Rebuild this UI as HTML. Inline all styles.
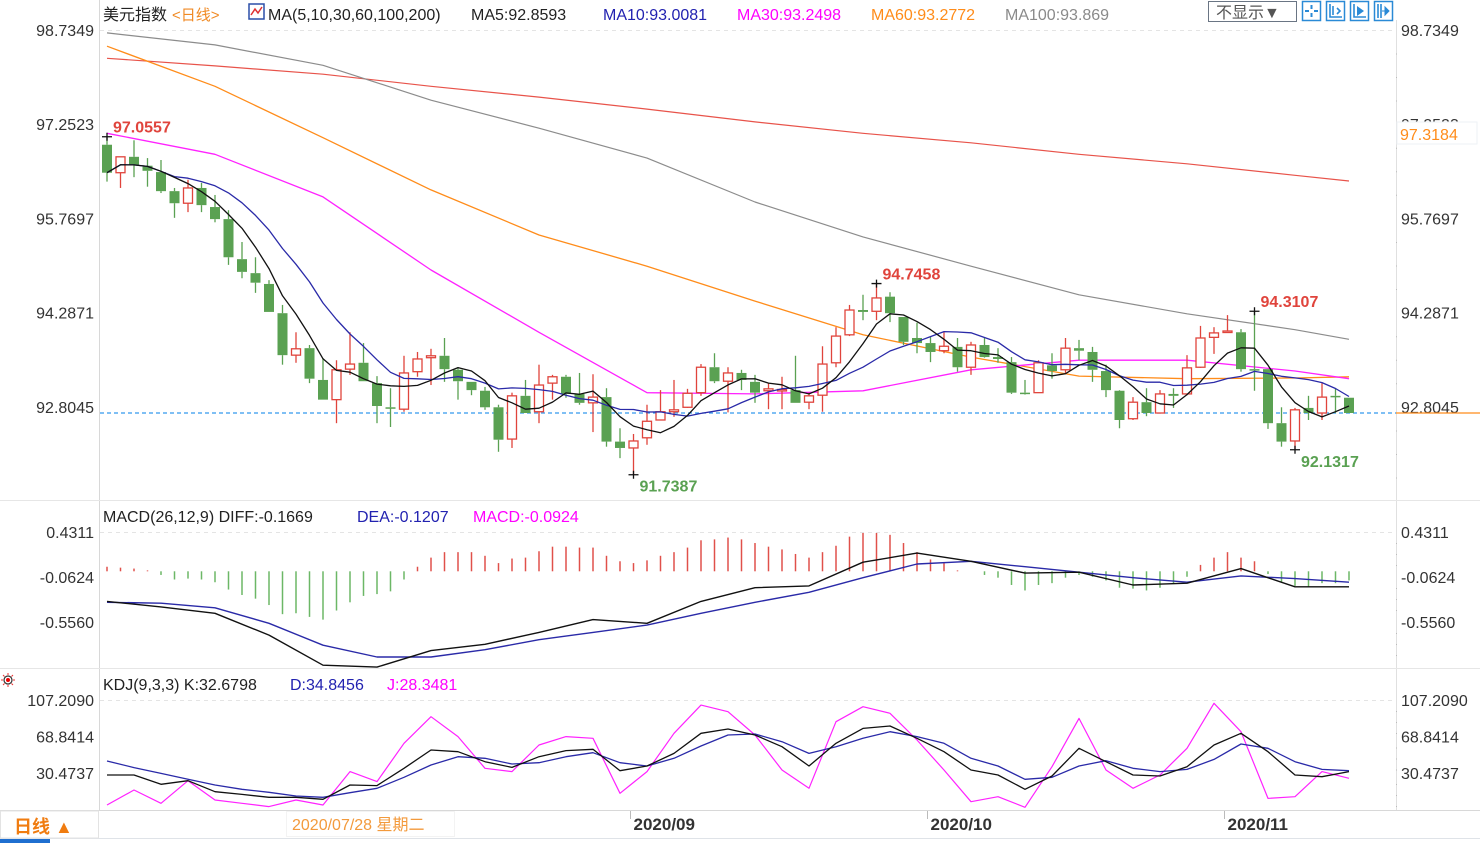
<!DOCTYPE html>
<html><head><meta charset="utf-8"><title>美元指数 日线</title>
<style>
html,body{margin:0;padding:0;background:#fff;}
body{width:1480px;height:843px;overflow:hidden;font-family:"Liberation Sans","Noto Sans CJK SC",sans-serif;}
svg text{font-family:"Liberation Sans","Noto Sans CJK SC",sans-serif;}
</style></head>
<body>
<svg id="chart" width="1480" height="843" viewBox="0 0 1480 843" xmlns="http://www.w3.org/2000/svg">
  <rect x="0" y="0" width="1480" height="843" fill="#fff"/>
  <line x1="99.5" y1="0" x2="99.5" y2="810" stroke="#d8d8d8"/>
  <line x1="1396.5" y1="20" x2="1396.5" y2="810" stroke="#e0e0e0"/>
  <line x1="0" y1="500.5" x2="1480" y2="500.5" stroke="#e6e6e6"/>
  <line x1="0" y1="668.5" x2="1480" y2="668.5" stroke="#e6e6e6"/>
  <line x1="100" y1="30.5" x2="1396" y2="30.5" stroke="#e4e4e4" stroke-dasharray="4,4"/>
  <line x1="100" y1="532.5" x2="1396" y2="532.5" stroke="#e4e4e4" stroke-dasharray="4,4"/>
  <line x1="100" y1="700.5" x2="1396" y2="700.5" stroke="#e4e4e4" stroke-dasharray="4,4"/>
  <line x1="0" y1="810.5" x2="1480" y2="810.5" stroke="#d8d8d8"/>
  <line x1="0" y1="838.5" x2="1480" y2="838.5" stroke="#dfe3e8"/>

  <g font-size="16">
    <text x="103" y="20" fill="#222">美元指数</text>
    <text x="172" y="20" fill="#f08a24" font-size="15">&lt;日线&gt;</text>
    <g>
      <rect x="249" y="4" width="15" height="15" fill="#fff" stroke="#2b4fa8" stroke-width="1.5"/>
      <polyline points="251,15 255,9 258,13 262,7" fill="none" stroke="#e03030" stroke-width="1.5"/>
    </g>
    <text x="268" y="20" fill="#222">MA(5,10,30,60,100,200)</text>
    <text x="471" y="20" fill="#222">MA5:92.8593</text>
    <text x="603" y="20" fill="#2222b0">MA10:93.0081</text>
    <text x="737" y="20" fill="#ff00ff">MA30:93.2498</text>
    <text x="871" y="20" fill="#ff8c1a">MA60:93.2772</text>
    <text x="1005" y="20" fill="#8a8a8a">MA100:93.869</text>
  </g>
  <g>
    <rect x="1208.5" y="1.5" width="88" height="20" fill="#fff" stroke="#6a7584"/>
    <text x="1216" y="18" font-size="16" fill="#555">不显示▼</text>
  </g>
  <g><rect x="1302.5" y="1.5" width="18" height="19" fill="#fff" stroke="#2a8ad6" stroke-width="1.5"/><path d="M1311.5 5v4M1311.5 13v4M1305 11h4M1314 11h4" stroke="#2a8ad6" stroke-width="2"/></g>
  <g><rect x="1326.5" y="1.5" width="18" height="19" fill="#fff" stroke="#2a8ad6" stroke-width="1.5"/><path d="M1330 4v13h12M1333 6v9M1337 8l3 3-3 3" stroke="#2a8ad6" stroke-width="1.6" fill="none"/></g>
  <g><rect x="1350.5" y="1.5" width="18" height="19" fill="#fff" stroke="#2a8ad6" stroke-width="1.5"/><path d="M1354 4v13h12" stroke="#2a8ad6" stroke-width="1.6" fill="none"/><path d="M1357 6l7 5-7 5z" fill="#2a8ad6"/></g>
  <g><rect x="1374.5" y="1.5" width="18" height="19" fill="#fff" stroke="#2a8ad6" stroke-width="1.5"/><path d="M1378 4v14M1381 4v14" stroke="#2a8ad6" stroke-width="1.6"/><path d="M1382 11h5M1385 7l4 4-4 4z" stroke="#2a8ad6" fill="#2a8ad6"/></g>

  <g id="axes"></g>
  <g id="main"></g>
  <g id="macd"></g>
  <g id="kdj"></g>

  <g font-size="16">
    <text x="103" y="522" fill="#222">MACD(26,12,9) DIFF:-0.1669</text>
    <text x="357" y="522" fill="#2222b0">DEA:-0.1207</text>
    <text x="473" y="522" fill="#ff00ff">MACD:-0.0924</text>
  </g>
  <g font-size="16">
    <text x="103" y="690" fill="#222">KDJ(9,3,3) K:32.6798</text>
    <text x="290" y="690" fill="#2222b0">D:34.8456</text>
    <text x="387" y="690" fill="#ff00ff">J:28.3481</text>
  </g>
  <g>
    <circle cx="8" cy="680" r="4" fill="none" stroke="#333" stroke-width="1.2"/>
    <circle cx="8" cy="680" r="2" fill="#e00"/>
    <path d="M8 673v2M8 685v2M1 680h2M13 680h2M3 675l1.5 1.5M13 675l-1.5 1.5M3 685l1.5-1.5M13 685l-1.5-1.5" stroke="#e33" stroke-width="1"/>
  </g>

  <g>
    <rect x="0.5" y="811" width="98" height="27" fill="#fff" stroke="#e3e3e3"/>
    <text x="14" y="833" font-size="18" font-weight="bold" fill="#f07c10">日线 ▲</text>
    <rect x="0" y="839" width="50" height="4" fill="#1f6fd0"/>
  </g>
  <g>
    <rect x="286.5" y="811.5" width="168" height="25" fill="#fff" stroke="#f3f3f3"/>
    <text x="292" y="830" font-size="16" fill="#f39a3c">2020/07/28 星期二</text>
  </g>
  <g id="dates" font-size="17" font-weight="bold" fill="#333"></g>
</svg>
<script>
const candleOpen  = [96.93,96.49,96.74,96.60,96.50,96.20,96.01,96.25,95.95,95.76,95.13,94.91,94.74,94.28,93.62,93.73,93.23,92.92,93.40,93.50,93.18,92.80,92.77,93.36,93.58,93.61,93.39,93.20,93.06,92.80,92.30,92.98,92.73,93.18,93.28,93.01,92.87,92.96,92.26,92.16,92.32,92.60,92.73,92.80,93.03,93.43,93.21,93.34,93.20,93.06,93.07,93.07,92.88,92.99,93.50,93.94,94.33,94.31,94.54,94.22,93.89,93.81,93.69,93.75,93.43,93.78,93.59,93.51,93.03,93.03,93.46,93.39,93.73,93.67,93.37,93.06,92.62,92.88,92.71,93.01,93.01,93.43,93.90,93.98,93.98,93.40,93.40,92.55,92.27,92.79,92.71,92.98,92.95];
const candleClose = [96.49,96.74,96.61,96.52,96.20,96.01,96.25,95.98,95.76,95.16,94.93,94.76,94.30,93.62,93.72,93.25,92.92,93.39,93.48,93.21,92.82,92.79,93.34,93.56,93.61,93.40,93.21,93.07,92.80,92.29,92.98,92.71,93.15,93.28,93.01,92.87,92.96,92.26,92.16,92.27,92.58,92.73,92.76,93.02,93.43,93.21,93.34,93.23,93.03,93.09,93.08,92.87,92.98,93.48,93.92,94.33,94.30,94.52,94.28,93.83,93.81,93.67,93.76,93.43,93.78,93.59,93.56,93.03,93.01,93.50,93.37,93.73,93.69,93.39,93.07,92.60,92.88,92.71,93.01,92.98,93.42,93.89,93.97,94.00,93.40,93.39,92.55,92.26,92.76,92.71,92.96,92.96,92.71];
const candleHigh  = [97.06,96.74,97.00,96.72,96.69,96.25,96.38,96.33,96.14,95.90,95.40,95.16,94.80,94.41,93.98,93.78,93.57,93.54,93.98,93.81,93.29,93.10,93.61,93.67,93.72,93.89,93.43,93.20,93.12,92.84,93.03,93.23,93.47,93.31,93.31,93.34,93.32,93.10,92.47,92.38,92.84,93.07,93.23,93.09,93.48,93.65,93.43,93.39,93.31,93.18,93.28,93.61,93.03,93.76,94.06,94.41,94.57,94.75,94.61,94.22,94.13,93.91,93.98,93.89,93.83,93.89,93.73,93.59,93.23,93.54,93.65,93.89,93.86,93.75,93.47,93.07,92.96,93.10,93.07,93.10,93.62,94.08,94.06,94.25,94.03,94.31,93.40,92.80,92.79,92.98,93.18,93.10,92.95];
const candleLow   = [96.35,96.25,96.42,96.27,96.17,95.78,95.87,95.87,95.71,95.04,94.83,94.60,94.30,93.47,93.50,93.18,92.92,92.55,93.31,93.21,92.55,92.49,92.73,93.28,93.15,93.20,92.92,92.99,92.76,92.10,92.16,92.71,92.55,92.92,92.95,92.84,92.41,92.18,92.00,91.74,92.21,92.60,92.65,92.79,92.98,93.18,92.72,93.07,92.87,92.77,92.77,92.87,92.77,92.73,93.43,93.92,94.17,94.17,94.14,93.78,93.65,93.51,93.65,93.36,93.31,93.58,93.50,93.01,93.00,93.03,93.25,93.34,93.54,93.20,92.96,92.47,92.60,92.66,92.71,92.79,92.99,93.42,93.64,93.98,93.36,93.06,92.46,92.18,92.13,92.60,92.60,92.71,92.71];
const maSampleIdx = [0,8,16,24,32,40,48,56,64,72,80,88,92];
const ma30  = [97.11,96.78,96.11,94.96,93.98,93.03,93.01,93.06,93.39,93.54,93.54,93.37,93.25];
const ma60  = [98.48,97.85,97.04,96.22,95.51,95.02,94.47,93.94,93.59,93.29,93.25,93.26,93.28];
const ma100 = [98.69,98.50,98.18,97.63,97.19,96.72,96.03,95.48,95.02,94.57,94.27,94.02,93.87];
const ma200 = [98.29,98.17,98.04,97.85,97.68,97.49,97.29,97.11,96.96,96.78,96.63,96.45,96.36];
const mainTicks = [98.7349,97.2523,95.7697,94.2871,92.8045];
const lastPrice = 92.71;

const macdHist = [0.05,0.04,0.03,0.01,-0.04,-0.09,-0.08,-0.09,-0.12,-0.20,-0.26,-0.30,-0.37,-0.47,-0.46,-0.50,-0.53,-0.43,-0.34,-0.27,-0.25,-0.22,-0.09,0.05,0.15,0.21,0.21,0.21,0.17,0.09,0.14,0.15,0.22,0.27,0.27,0.26,0.26,0.17,0.11,0.09,0.12,0.17,0.21,0.26,0.34,0.35,0.37,0.35,
0.31,0.27,0.24,0.19,0.15,0.21,0.28,0.38,0.42,0.42,0.40,0.31,0.21,0.13,0.09,0.01,0.00,-0.04,-0.07,-0.15,-0.21,-0.15,-0.13,-0.07,-0.04,-0.06,-0.10,-0.18,-0.19,-0.21,-0.18,-0.14,-0.06,0.07,0.15,0.21,0.15,0.11,-0.03,-0.12,-0.16,-0.17,-0.13,-0.13,-0.10];
const macdSampleIdx = [0,4,8,12,16,20,24,28,32,36,40,44,48,52,56,60,64,68,72,76,80,84,88,92];
const diffLine = [-0.33,-0.39,-0.46,-0.70,-1.03,-1.05,-0.87,-0.80,-0.67,-0.53,-0.57,-0.33,-0.18,-0.16,0.10,0.20,0.11,-0.02,-0.01,-0.15,-0.13,0.03,-0.17,-0.17];
const deaLine  = [-0.34,-0.35,-0.40,-0.57,-0.81,-0.94,-0.94,-0.86,-0.75,-0.67,-0.59,-0.46,-0.34,-0.23,-0.07,0.08,0.11,0.05,-0.01,-0.07,-0.12,-0.05,-0.08,-0.12];
const macdTicks = [0.4311,-0.0624,-0.5560];

const kLine = [28.4,28.4,18.6,22.4,10.8,8.0,4.9,4.9,2.8,17.9,17.2,35.4,54.6,52.9,42.4,36.4,47.6,54.0,55.4,32.9,37.8,51.1,72.2,76.7,
70.4,58.1,37.8,61.7,77.4,79.9,66.9,52.9,33.6,28.4,13.3,27.3,56.4,42.4,28.4,27.3,37.1,59.9,72.2,52.9,28.4,26.6,31.9];
const dLine = [43.1,36.1,30.1,23.8,17.9,13.3,10.2,6.3,4.9,9.8,14.4,25.9,38.9,47.6,45.9,39.9,41.3,47.6,51.8,41.3,37.8,45.9,58.9,70.4,
71.5,63.4,51.1,58.1,66.9,73.9,68.7,61.7,45.9,37.8,23.8,25.9,37.8,43.4,35.4,31.9,34.3,44.8,61.0,56.4,42.4,34.3,32.9];
const jLine = [-3.2,12.6,-1.4,22.4,2.1,-1.4,-4.9,2.1,-3.2,31.9,21.4,61.7,89.7,68.7,35.4,31.9,59.9,68.7,66.9,9.1,31.9,72.2,101.9,94.9,
70.4,33.6,14.4,84.4,100.2,93.2,65.2,33.6,0.3,5.6,-5.6,37.1,87.9,33.6,14.4,28.4,56.4,103.7,73.9,3.8,5.6,31.9,24.9];
const kdjTicks = [107.2090,68.8414,30.4737];

const dateLabels = ["2020/09","2020/10","2020/11"];
const dateIdx = [39,61,83];

const NS = "http://www.w3.org/2000/svg";
const X0 = 107, STEP = 13.5;
function xAt(i){ return X0 + STEP*i; }
function yMain(p){ return 30 + (98.7349 - p)*63.57; }
function yMacd(v){ return 571.3 - v*91.2; }
function yKdj(v){ return 700 + (107.209 - v)*0.9513; }
function mk(tag, attrs, parent){ const e=document.createElementNS(NS,tag); for(const k in attrs) e.setAttribute(k,attrs[k]); parent.appendChild(e); return e; }

const gAxes=document.getElementById('axes'), gMain=document.getElementById('main'), gMacd=document.getElementById('macd'), gKdj=document.getElementById('kdj');

function axisLabels(ticks, yf, fmt, name){
  ticks.forEach(function(t){
    const y=yf(t);
    const l=mk('text',{x:94,y:y+6,'text-anchor':'end','font-size':16,fill:'#333'},gAxes);
    
    
    l.textContent=fmt(t);
    const r=mk('text',{x:1401,y:y+6,'font-size':16,fill:'#333'},gAxes);
    
    
    r.textContent=fmt(t);
    for(let k=1;k<4;k++){ mk('rect',{x:1396,y:y+k*(name==='price'?23.5:11),width:1,height:1,fill:'#bbb'},gAxes); }
  });
}
axisLabels(mainTicks,yMain,function(t){return t.toFixed(4);},'price');
axisLabels(macdTicks,yMacd,function(t){return t.toFixed(4);},'macd');
axisLabels(kdjTicks,yKdj,function(t){return t.toFixed(4);},'kdj');

(function(){
  const p=97.3184, y=133;
  mk('rect',{x:1397,y:y-11,width:80,height:22,fill:'#fff',stroke:'#eef2f6'},gAxes);
  const t=mk('text',{x:1400,y:y+7,'font-size':16,fill:'#ff8c1a'},gAxes);
  
  
  t.textContent=p.toFixed(4);
})();

(function(){
  const y=yMain(lastPrice);
  const l=mk('line',{x1:100,y1:y,x2:1396,y2:y,stroke:'#3399ee','stroke-dasharray':'4,3','stroke-width':1.2},gMain);
  
  
  mk('line',{x1:1396,y1:y,x2:1480,y2:y,stroke:'#ff8c1a','stroke-width':1.2},gMain);
})();

function path(xs, ys, color, w, parent, name){
  let d='';
  for(let i=0;i<xs.length;i++){ d+=(i?'L':'M')+xs[i].toFixed(1)+' '+ys[i].toFixed(1); }
  const p=mk('path',{d:d,fill:'none',stroke:color,'stroke-width':w,'stroke-linejoin':'round'},parent);
  
  
  return p;
}

path(maSampleIdx.map(xAt), ma200.map(yMain), '#e8534a', 1.2, gMain, 'ma200-line');
path(maSampleIdx.map(xAt), ma100.map(yMain), '#8c8c8c', 1.2, gMain, 'ma100-line');
path(maSampleIdx.map(xAt), ma60.map(yMain), '#ff8c1a', 1.3, gMain, 'ma60-line');
path(maSampleIdx.map(xAt), ma30.map(yMain), '#ff22ff', 1.3, gMain, 'ma30-line');

const UP='#e0443c', DOWN='#5aa152';
for(let i=0;i<candleClose.length;i++){
  const o=candleOpen[i], c=candleClose[i], h=candleHigh[i], l=candleLow[i];
  const x=xAt(i), up=c>=o, col=up?UP:DOWN;
  const g=mk('g',{},gMain);
  
  
  const top=Math.min(yMain(o),yMain(c)), bot=Math.max(yMain(o),yMain(c));
  mk('line',{x1:x,y1:yMain(h),x2:x,y2:top,stroke:col,'stroke-width':1.3},g);
  mk('line',{x1:x,y1:bot,x2:x,y2:yMain(l),stroke:col,'stroke-width':1.3},g);
  const bh=Math.max(bot-top,1.5);
  if(up) mk('rect',{x:x-4.5,y:top,width:9,height:bh,fill:'#fff',stroke:col,'stroke-width':1.3},g);
  else mk('rect',{x:x-5,y:top,width:10,height:bh,fill:col},g);
}

function sma(n){ return candleClose.map(function(_,i){ const s=Math.max(0,i-n+1); let t=0; for(let k=s;k<=i;k++) t+=candleClose[k]; return t/(i-s+1); }); }
const idxAll=candleClose.map(function(_,i){return i;});
path(idxAll.map(xAt), sma(10).map(yMain), '#2a2aa8', 1.3, gMain, 'ma10-line');
path(idxAll.map(xAt), sma(5).map(yMain), '#111', 1.3, gMain, 'ma5-line');

function annotate(i, val, isHigh){
  const x=xAt(i), y=yMain(val);
  mk('path',{d:'M'+(x-5)+' '+y+'h10M'+x+' '+(y-4)+'v8',stroke:'#111','stroke-width':1.3},gMain);
  const t=mk('text',{'font-size':16,'font-weight':'bold',fill:isHigh?'#e0443c':'#5aa152'},gMain);
  
  
  t.textContent=val.toFixed(4);
  if(isHigh){ t.setAttribute('x',x+6); t.setAttribute('y',y-4); }
  else { t.setAttribute('x',x+6); t.setAttribute('y',y+17); }
}
function argMax(a,s,e){ let b=s; for(let i=s;i<=e;i++) if(a[i]>a[b]) b=i; return b; }
function argMin(a,s,e){ let b=s; for(let i=s;i<=e;i++) if(a[i]<a[b]) b=i; return b; }
(function(){
  annotate(argMax(candleHigh,0,10),97.0557,true);
  annotate(argMax(candleHigh,50,70),94.7458,true);
  annotate(argMax(candleHigh,80,92),94.3107,true);
  annotate(argMin(candleLow,30,50),91.7387,false);
  annotate(argMin(candleLow,80,92),92.1317,false);
})();

for(let i=0;i<macdHist.length;i++){
  const v=macdHist[i], x=xAt(i);
  const b=mk('line',{x1:x,y1:yMacd(0),x2:x,y2:yMacd(v),stroke:v>=0?'#e0504a':'#6cb766','stroke-width':1.5},gMacd);
  
  
}
path(macdSampleIdx.map(xAt), deaLine.map(yMacd), '#2a2aa8', 1.4, gMacd, 'dea-line');
path(macdSampleIdx.map(xAt), diffLine.map(yMacd), '#111', 1.4, gMacd, 'diff-line');

const kdjIdx=kLine.map(function(_,i){return i*2;});
path(kdjIdx.map(xAt), jLine.map(yKdj), '#ff22ff', 1.2, gKdj, 'kdj-j-line');
path(kdjIdx.map(xAt), dLine.map(yKdj), '#2a2aa8', 1.3, gKdj, 'kdj-d-line');
path(kdjIdx.map(xAt), kLine.map(yKdj), '#111', 1.3, gKdj, 'kdj-k-line');

const gDates=document.getElementById('dates');
dateLabels.forEach(function(lbl,k){
  const x=xAt(dateIdx[k]);
  mk('line',{x1:x-3,y1:811,x2:x-3,y2:819,stroke:'#bbb'},gDates);
  const t=mk('text',{x:x,y:830},gDates);
  
  
  t.textContent=lbl;
});
</script>
</body></html>
